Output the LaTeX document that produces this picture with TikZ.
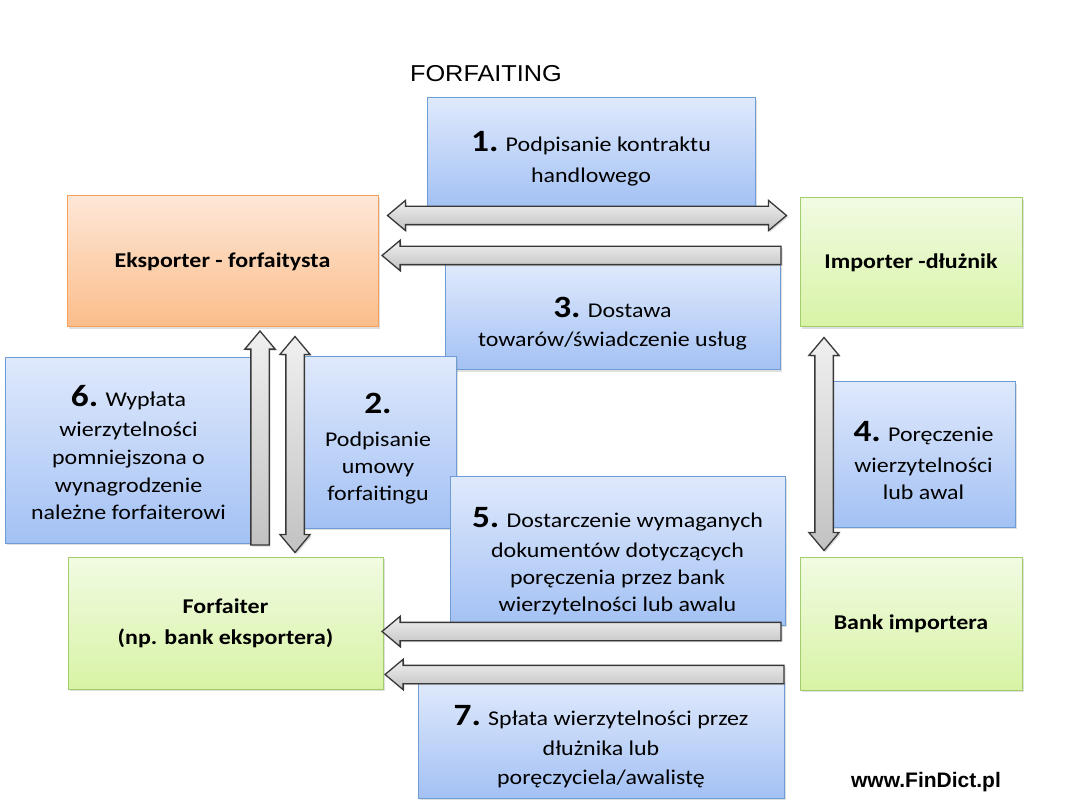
\documentclass[tikz,border=0pt]{standalone}
\usepackage{fontspec}
\setmainfont{Carlito}[FakeStretch=1.14]
\newfontfamily\titlefont{Liberation Sans}[FakeStretch=1.1]
\newfontfamily\markfont{Liberation Sans}
\usetikzlibrary{shapes.arrows,shadows,calc}
\definecolor{bluetop}{HTML}{DFE9FC}
\definecolor{bluebot}{HTML}{A3C1F4}
\definecolor{blueline}{HTML}{6E9DD6}
\definecolor{orangetop}{HTML}{FDE7D7}
\definecolor{orangebot}{HTML}{FBBD8A}
\definecolor{orangeline}{HTML}{F7A05B}
\definecolor{greentop}{HTML}{F1FBE2}
\definecolor{greenbot}{HTML}{D8F3A5}
\definecolor{greenline}{HTML}{A2CD6C}
\newcommand\bignum[2][33pt]{\rule{0pt}{#1}{\fontsize{31}{31}\selectfont\bfseries #2}}
\newcommand\garrow[3]{%
  \path let \p1=($(#3)-(#2)$), \n1={veclen(\x1,\y1)} in
    (#2) -- (#3) node[midway, sloped, allow upside down, #1, minimum height=\n1] {};}
\tikzset{
  box/.style={rectangle, line width=1pt, anchor=center, align=center, inner sep=3pt,
    font=\fontsize{21}{27}\selectfont,
    drop shadow={shadow xshift=2pt, shadow yshift=-2pt, opacity=0.25}},
  bluebox/.style={box, draw=blueline, top color=bluetop, bottom color=bluebot},
  orangebox/.style={box, draw=orangeline, top color=orangetop, bottom color=orangebot, font=\fontsize{21}{27}\selectfont\bfseries},
  greenbox/.style={box, draw=greenline, top color=greentop, bottom color=greenbot, font=\fontsize{21}{27}\selectfont\bfseries},
  arrowbase/.style={draw=black!78, line width=1.3pt, inner xsep=0pt, inner ysep=8.5pt,
    minimum width=0pt, top color=gray!12, bottom color=gray!48,
    drop shadow={shadow xshift=1.5pt, shadow yshift=-1.5pt, opacity=0.3}},
  onearrow/.style={arrowbase, single arrow, single arrow head extend=6pt,
    single arrow tip angle=80, single arrow head indent=0pt},
  twoarrow/.style={arrowbase, double arrow, double arrow head extend=6pt,
    double arrow tip angle=80, double arrow head indent=0pt},
}
\begin{document}
\begin{tikzpicture}[x=1pt,y=-1pt]
\useasboundingbox[fill=white] (0,0) rectangle (1080,810);

\node (title) at (486,74) {\titlefont\fontsize{23}{23}\selectfont FORFAITING};

\node[bluebox, minimum width=328, minimum height=109] (b1) at (591,152.5)
  {\bignum{1.} Podpisanie kontraktu\\[4pt] handlowego};
\node[bluebox, minimum width=335, minimum height=105] (b3) at (612.5,317.5)
  {\bignum{3.} Dostawa\\[2pt] towarów/świadczenie usług};
\node[bluebox, minimum width=156, minimum height=171] (b2) at (378,442.5)
  {\bignum{2.}\\[6pt] Podpisanie\\ umowy\\ forfaitingu};
\node[bluebox, minimum width=335, minimum height=148] (b5) at (617.5,551)
  {\bignum[41pt]{5.} Dostarczenie wymaganych\\[3pt] dokumentów dotyczących\\ poręczenia przez bank\\ wierzytelności lub awalu};
\node[bluebox, minimum width=366, minimum height=115] (b7) at (601,740.5)
  {\bignum{7.} Spłata wierzytelności przez\\[3pt] dłużnika lub\\[2pt] poręczyciela/awalistę};
\node[bluebox, minimum width=247, minimum height=185] (b6) at (128.5,450.5)
  {\bignum[26pt]{6.} Wypłata\\[3pt] wierzytelności\\[1pt] pomniejszona o\\[1pt] wynagrodzenie\\[0pt] należne forfaiterowi};
\node[bluebox, minimum width=183, minimum height=145] (b4) at (923.5,454.5)
  {\bignum{4.} Poręczenie\\[4pt] wierzytelności\\ lub awal};

\node[orangebox, minimum width=311, minimum height=131] (eks) at (222.5,261.5) {Eksporter - forfaitysta};
\node[greenbox, minimum width=222, minimum height=129] (imp) at (911,262.5) {Importer -dłużnik};
\node[greenbox, minimum width=315, minimum height=132] (forf) at (225.5,623) {Forfaiter\\[4pt] (np. bank eksportera)};
\node[greenbox, minimum width=222, minimum height=133] (bank) at (911,623.5) {Bank importera};

\coordinate (a1l) at ([shift={(9,20)}]eks.north east);
\coordinate (a1r) at ([shift={(-13,18)}]imp.north west);
\coordinate (a3t) at ([shift={(-13,58)}]imp.north west);
\coordinate (a3h) at ([shift={(9,60)}]eks.north east);
\coordinate (a5t) at ([shift={(-13,75)}]bank.north west);
\coordinate (a5h) at ([shift={(4,75)}]forf.north east);
\coordinate (a7t) at ([shift={(-10,118)}]bank.north west);
\coordinate (a7h) at ([shift={(7,118)}]forf.north east);
\coordinate (vAt) at ([shift={(37.5,223)}]eks.south);
\coordinate (vAh) at ([shift={(37.5,9)}]eks.south);
\coordinate (vBa) at ([shift={(72.5,9)}]eks.south);
\coordinate (vBb) at ([shift={(72.5,225)}]eks.south);
\coordinate (vRa) at ([shift={(-87,10)}]imp.south);
\coordinate (vRb) at ([shift={(-87,223)}]imp.south);

\garrow{twoarrow}{a1l}{a1r}
\garrow{onearrow}{a3t}{a3h}
\garrow{onearrow}{a5t}{a5h}
\garrow{onearrow}{a7t}{a7h}
\garrow{onearrow}{vAt}{vAh}
\garrow{twoarrow}{vBa}{vBb}
\garrow{twoarrow}{vRa}{vRb}

\node (mark) at (926,782) {\markfont\bfseries\fontsize{21}{21}\selectfont www.FinDict.pl};
\end{tikzpicture}
\end{document}
